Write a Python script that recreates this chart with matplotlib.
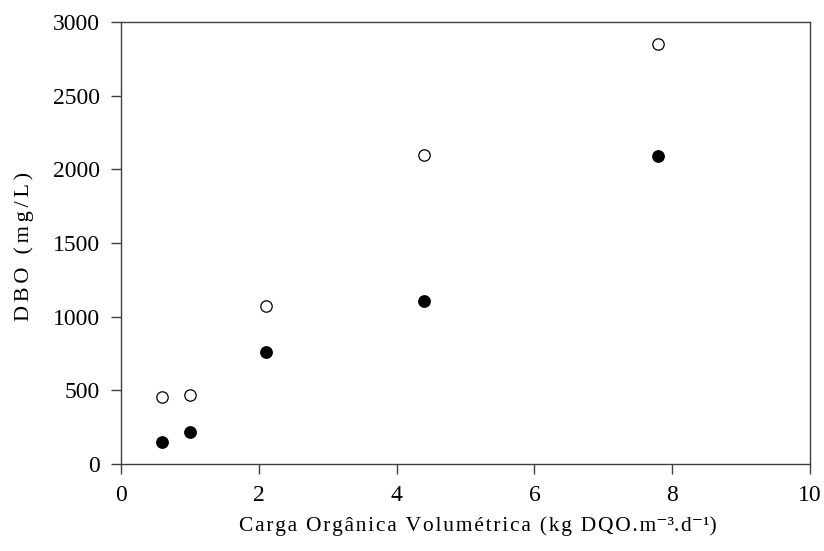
import matplotlib
matplotlib.use('Agg')
import matplotlib.pyplot as plt

plt.rcParams['font.family'] = ['Liberation Serif', 'DejaVu Serif']

# carga orgânica volumétrica (kg DQO/m3.d)
carga = [0.6, 1.0, 2.1, 4.4, 7.8]
# DBO afluente e efluente (mg/L)
dbo_afluente = [453, 466, 1070, 2098, 2853]
dbo_efluente = [149, 219, 762, 1105, 2091]

xticks = [0, 2, 4, 6, 8, 10]
yticks = [0, 500, 1000, 1500, 2000, 2500, 3000]


def spaced(s, sep='\u200a'):
    # letras um pouco mais afastadas
    return sep.join(s)


fig = plt.figure(figsize=(8.24, 5.51), dpi=100)
ax = fig.add_axes([0.1468, 0.158, 0.8362, 0.802])

ax.plot(carga, dbo_afluente, 'o', mfc='white', mec='black', mew=0.9, ms=8.2, ls='none')
ax.plot(carga, dbo_efluente, 'o', mfc='black', mec='black', ms=8.2, ls='none')

ax.set_xlim(0, 10)
ax.set_ylim(0, 3000)
ax.set_xticks(xticks)
ax.set_yticks(yticks)

for s in ax.spines.values():
    s.set_color('#404040')
    s.set_linewidth(1.0)
ax.tick_params(direction='out', length=7, width=1.0, color='#404040',
               labelsize=17, pad=8)

fig.text(0.029, 0.553, spaced('DBO (mg/L)', '\u200a\u200a'), rotation=90,
         ha='center', va='center', fontsize=16)
fig.text(0.580, 0.045, spaced('Carga Orgânica Volumétrica (kg DQO.m') + '\u207b\u00b3' +
         spaced('.d') + '\u207b\u00b9' + ')', ha='center', va='center', fontsize=15.5)

fig.savefig('out.png', dpi=100)
